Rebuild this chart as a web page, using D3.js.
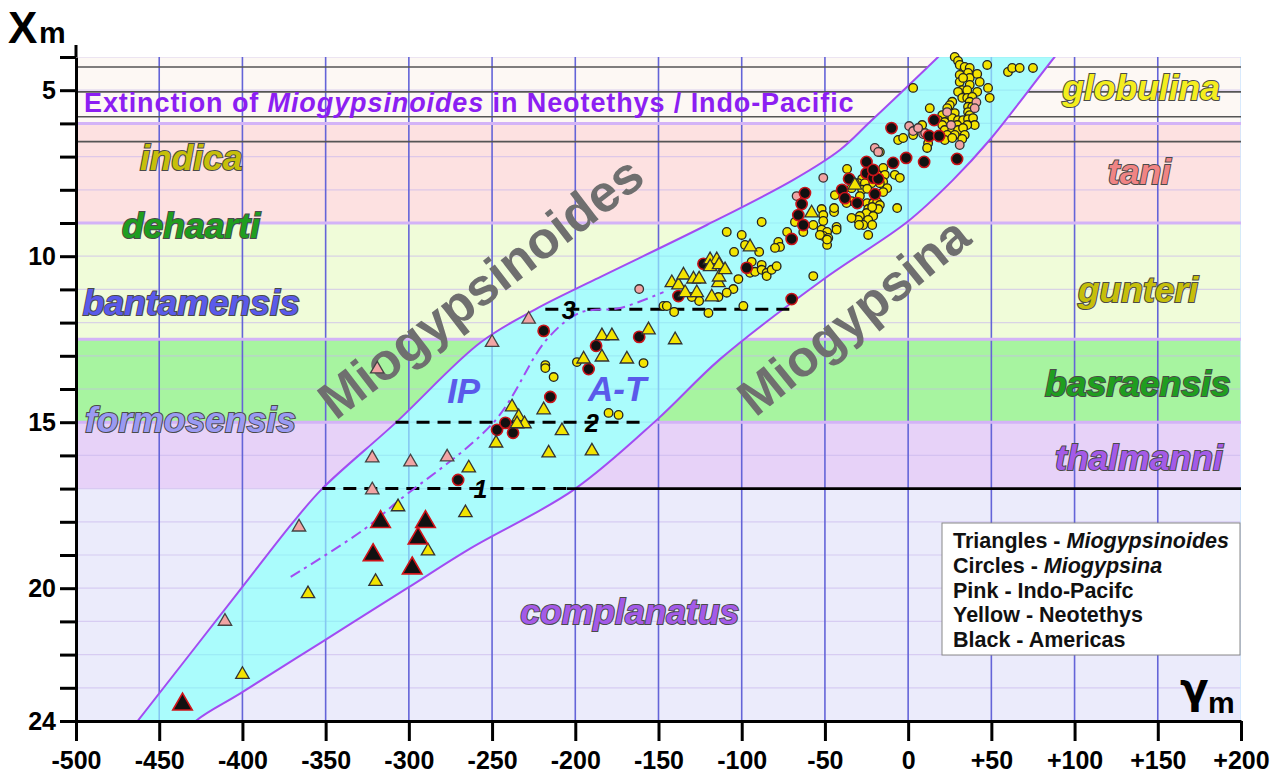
<!DOCTYPE html>
<html>
<head>
<meta charset="utf-8">
<script src="https://d3js.org/d3.v7.min.js"></script>
<style>
  body { margin: 0; background: #fff; }
  text { font-family: "Liberation Sans", Arial, sans-serif; font-weight: bold; }
</style>
</head>
<body>
<div id="vis"></div>
<script>
  // zones (X_m boundaries) and their colours
  const zoneBreaks = [4, 6, 9, 12.5, 15, 17, 24]
  const zoneColors = ['#fdf8f4', '#fde1e1', '#f0fcd9', '#a7f4a0', '#e7d2f8', '#ebebfb']
  const thinLines = [4.3, 5.05, 5.8, 6.55]

  // band edges [gamma, X]
  const bandUpper = [[-471,24.5],[-463,24],[-400,19.96],[-370,18.04],[-352,17.0],[-308,15.02],[-257,12.6],[-224,11.6],[-188,10.7],[-121,9.06],[-69,7.7],[-41,6.8],[-23,5.96],[18,4.0],[30,3.4]]
  const bandLower = [[98,3.4],[88,4.0],[49,6.5],[27,7.7],[-0.6,8.97],[-51,10.7],[-113,13.1],[-151,14.93],[-201,17.04],[-263,18.8],[-301,20.0],[-351.6,21.6],[-401,23.16],[-428,24],[-436,24.5]]
  const ipLine = [[-371,19.66],[-327.5,18.25],[-307,17.4],[-249,15.0],[-217,12.5],[-197,11.7],[-173,11.56],[-147,11.08]]

  // dashed levels
  const levelX = [11.6, 15, 17]
  const levelFrom = [-218, -308, -352]
  const levelTo = [-70, -159, -205]
  const levelNames = ['3', '2', '1']
  const levelLabelAt = [-204, -190, -257]

  // Miogypsinoides (triangles)
  const triBlack = [[-317,18.0],[-290,18.0],[-294.5,18.5],[-321.5,19.0],[-298,19.4],[-436,23.5]]
  const triPink = [[-322,16.08],[-299,16.2],[-277,16.05],[-322,17.04],[-366,18.16],[-410.5,21.0],[-228,11.9],[-250,12.6],[-319,13.4]]
  const triYellow = [[-400,22.6],[-360.6,20.17],[-320,19.8],[-288.5,18.88],[-306.5,17.55],[-266,17.73],[-264,16.38],[-247.6,15.63],[-238,14.54],[-234,14.84],[-230.5,15.05],[-235,15.05],[-219,14.63],[-208,15.26],[-216,15.93],[-190,15.87],[-195,13.1],[-184,13.04],[-169,13.1],[-184,12.4],[-178,12.4],[-156,12.22],[-140,12.52],[-142,10.8],[-138,10.87],[-135,10.57],[-129,10.69],[-125.6,10.69],[-134,11.1],[-127,11.1],[-118,11.23],[-114,10.8],[-113.6,10.63],[-119,10.11],[-115,10.11],[-119,10.32],[-113.6,10.26],[-110,10.41],[-95,9.72],[-58,8.7],[-32,7.86]]

  // Miogypsina (circles)
  const circBlack = [[-270.4,16.74],[-247,15.23],[-242,15.02],[-237.4,15.32],[-215,14.24],[-192,13.4],[-187.5,12.7],[-219,12.25],[-161.6,12.43],[-138,11.2],[-123,10.23],[-97,10.35],[-70,11.29],[-70,9.48],[-66,8.76],[-63,9.06],[-64,8.43],[-62,8.1],[-39.7,8.0],[-38,8.25],[-30.6,8.4],[-20,8.13],[-35.5,7.67],[-25,7.16],[-25,7.5],[-21,7.64],[-18,7.67],[-9,7.19],[-1.2,7.04],[9.6,7.16],[29.4,7.07],[12.6,6.38],[18.6,6.38],[-10,6.14],[15.6,5.9],[-21,7.4]]
  const circPink = [[-161.6,10.99],[-67,8.19],[-51,7.64],[-20,6.74],[-18,6.86],[9,6.32],[0.6,6.08],[3,6.23],[10.2,6.29],[6,6.14],[23.4,5.66],[25.8,6.05],[31,6.65],[41,5.36],[40,5.54]]
  const circYellow = [[28,4.0],[30,4.12],[31,4.24],[34,4.3],[37,4.33],[36,4.48],[37,4.63],[31,4.54],[41.5,4.51],[47.5,4.24],[60,4.45],[62.5,4.33],[67,4.33],[75,4.33],
    [31,4.75],[33,4.63],[43,4.75],[37,4.84],[48,4.93],[32.5,5.0],[30,5.05],[35.5,5.0],[41.5,5.05],[32.5,5.23],[35.5,5.23],[38.5,5.2],[49,5.23],[37,5.35],[26.5,5.35],[25,5.45],[36,5.5],[38.5,5.5],[3,4.93],[13,5.54],[23.5,5.54],[22,5.75],[20.5,5.75],[28,5.69],[36,5.66],[37,5.75],[18,5.9],[22,5.96],[26.5,5.84],[30,5.9],[33,5.9],[36,5.87],[39,5.84],[40,6.05],[20.5,6.05],[29.5,6.05],[35.5,6.05],[22,6.2],[26.5,6.2],[30,6.2],[33,6.14],[23.5,6.35],[28,6.35],[34,6.35],[22,6.5],[26.5,6.44],[32.5,6.47],[8.4,6.05],[3,6.35],[12,6.6],[11.4,6.74],[-6,6.5],[-3,6.44],[-17,6.86],[-15,7.34],[-8,7.55],[-5,7.64],[-18.6,7.55],
    [-36.7,7.37],[-14,7.55],[-15,7.76],[-12.6,7.95],[-17,7.8],[-22,7.8],[-27.6,7.67],[-30,7.8],[-32,7.8],[-26,7.8],[-34,7.95],[-27.6,8.0],[-24.6,7.97],[-15,8.07],[-44,8.16],[-34,8.34],[-37,8.4],[-29,8.19],[-24.6,8.4],[-21,8.4],[-18.6,8.37],[-17,8.46],[-18,8.58],[-24,8.58],[-25,8.7],[-29,8.79],[-21,8.79],[-30,8.91],[-24,8.91],[-27,9.06],[-29.5,9.06],[-21.6,9.06],[-34,8.85],[-44.5,8.67],[-52,8.58],[-51,8.76],[-51,8.94],[-57,9.06],[-52,9.2],[-48.7,9.27],[-43,9.12],[-43,9.2],[-51,9.39],[-48,9.45],[-48.7,9.66],[-24,9.36],[-6.6,8.55],[-72.7,9.27],[-68,8.97],[-63,9.27],
    [-109,9.27],[-100,9.36],[-88,8.97],[-78,9.57],[-77,9.72],[-80,9.75],[-98,9.66],[-89.5,9.87],[-104.6,9.87],[-94,10.17],[-95,10.5],[-92,10.47],[-88,10.26],[-88,10.41],[-85,10.5],[-85,10.6],[-82,10.41],[-79,10.3],[-102,10.69],[-105,10.99],[-109,11.1],[-114,11.23],[-125.6,11.35],[-130,11.23],[-147,11.5],[-145,11.5],[-140.6,11.68],[-120,11.71],[-99,11.5],[-57,10.6],[-44.5,8.55],[-53,9.36],[-48.7,9.5],[-21.6,8.52],
    [-218,13.28],[-218,13.37],[-213,13.64],[-180,14.72],[-174,14.78],[-199,13.19],[-159,13.22]]

  const xTicks = d3.range(-500, 201, 50)
  const yTicks = d3.range(4, 25, 1)
  const yLabels = [5, 10, 15, 20, 24]

  var svg = d3.select('#vis').append('svg')
    .attr('width', 1276)
    .attr('height', 778)

  var x = d3.scaleLinear().domain([-500, 200]).range([76, 1241])
  var y = d3.scaleLinear().domain([4, 24]).range([57, 721])

  var defs = svg.append('defs')
  defs.append('clipPath').attr('id', 'plotClip')
    .append('rect').attr('x', x(-500)).attr('y', y(4)).attr('width', x(200) - x(-500)).attr('height', y(24) - y(4))

  var lineGen = d3.line().x(d => x(d[0])).y(d => y(d[1])).curve(d3.curveCatmullRom.alpha(0.5))
  var upperD = lineGen(bandUpper)
  var lowerD = lineGen(bandLower)
  var bandD = upperD + 'L' + lowerD.slice(1) + 'Z'
  defs.append('clipPath').attr('id', 'bandClip').append('path').attr('d', bandD)

  var plot = svg.append('g').attr('clip-path', 'url(#plotClip)')

  // zone backgrounds
  plot.selectAll('rect.zone')
    .data(zoneColors)
    .enter()
    .append('rect')
      .attr('x', x(-500))
      .attr('width', x(200) - x(-500))
      .attr('y', (d, i) => y(zoneBreaks[i]))
      .attr('height', (d, i) => y(zoneBreaks[i + 1]) - y(zoneBreaks[i]))
      .attr('fill', d => d)

  // faint horizontal grid
  plot.selectAll('line.hgrid')
    .data(yTicks)
    .enter()
    .append('line')
      .attr('x1', x(-500)).attr('x2', x(200))
      .attr('y1', d => y(d)).attr('y2', d => y(d))
      .attr('stroke', '#c9b8ec').attr('stroke-opacity', 0.6).attr('stroke-width', 1.2)

  // vertical grid
  plot.selectAll('line.vgrid')
    .data(xTicks.slice(1))
    .enter()
    .append('line')
      .attr('x1', d => x(d)).attr('x2', d => x(d))
      .attr('y1', y(4)).attr('y2', y(24))
      .attr('stroke', d => d == 200 ? '#cfe6ff' : '#6464d8').attr('stroke-width', 1.6)

  // thin black lines at the top
  plot.selectAll('line.thin')
    .data(thinLines)
    .enter()
    .append('line')
      .attr('x1', x(-500)).attr('x2', x(200))
      .attr('y1', d => y(d)).attr('y2', d => y(d))
      .attr('stroke', '#555').attr('stroke-width', 1.6)

  // zone boundaries
  plot.selectAll('line.zb')
    .data(zoneBreaks.slice(1, 5))
    .enter()
    .append('line')
      .attr('x1', x(-500)).attr('x2', x(200))
      .attr('y1', d => y(d)).attr('y2', d => y(d))
      .attr('stroke', '#d3b3f7').attr('stroke-width', 3)

  // band
  plot.append('path').attr('d', bandD).attr('fill', '#aafcfc')
  var inBand = plot.append('g').attr('clip-path', 'url(#bandClip)')
  inBand.selectAll('line.h')
    .data(yTicks)
    .enter()
    .append('line')
      .attr('x1', x(-500)).attr('x2', x(200))
      .attr('y1', d => y(d)).attr('y2', d => y(d))
      .attr('stroke', '#8fdcef').attr('stroke-opacity', 0.5).attr('stroke-width', 1.2)
  inBand.selectAll('line.v')
    .data(xTicks.slice(1))
    .enter()
    .append('line')
      .attr('x1', d => x(d)).attr('x2', d => x(d))
      .attr('y1', y(4)).attr('y2', y(24))
      .attr('stroke', '#86c8f2').attr('stroke-width', 1.6)
  plot.append('path').attr('d', upperD).attr('fill', 'none').attr('stroke', '#a24cf2').attr('stroke-width', 2)
  plot.append('path').attr('d', lowerD).attr('fill', 'none').attr('stroke', '#a24cf2').attr('stroke-width', 2)

  // solid level at 17
  plot.append('line')
    .attr('x1', x(levelTo[2])).attr('x2', x(200))
    .attr('y1', y(17)).attr('y2', y(17))
    .attr('stroke', '#000').attr('stroke-width', 2.6)

  // dashed levels
  plot.selectAll('line.level')
    .data(levelX)
    .enter()
    .append('line')
      .attr('x1', (d, i) => x(levelFrom[i])).attr('x2', (d, i) => x(levelTo[i]))
      .attr('y1', d => y(d)).attr('y2', d => y(d))
      .attr('stroke', '#000').attr('stroke-width', 3).attr('stroke-dasharray', '13,8')

  // Indo-Pacific dash-dot
  plot.append('path').attr('d', lineGen(ipLine))
    .attr('fill', 'none').attr('stroke', '#a24cf2').attr('stroke-width', 2)
    .attr('stroke-dasharray', '11,5,3,5')

  // zone names
  const zoneLabels = [
    ['globulina', 92.6, 5.3, '#f4ee1e'],
    ['tani', 120, 7.82, '#f08484'],
    ['indica', -461.6, 7.4, '#c6bf0a'],
    ['gunteri', 102, 11.38, '#c6bf0a'],
    ['dehaarti', -472.4, 9.45, '#1f9e1f'],
    ['bantamensis', -496, 11.77, '#5a5aea'],
    ['basraensis', 82.3, 14.2, '#1f9e1f'],
    ['formosensis', -494.6, 15.3, '#9a9af2'],
    ['thalmanni', 88.3, 16.44, '#a45ae8'],
    ['complanatus', -233, 21.07, '#a45ae8']
  ]
  svg.selectAll('text.zone')
    .data(zoneLabels)
    .enter()
    .append('text')
      .attr('x', d => x(d[1])).attr('y', d => y(d[2]))
      .text(d => d[0])
      .style('font-size', '35.5px').style('font-style', 'italic')
      .attr('fill', d => d[3])
      .attr('stroke', '#4a4a4a').attr('stroke-width', 2).style('paint-order', 'stroke')

  // title
  var title = svg.append('text').attr('x', x(-495.2)).attr('y', y(5.66))
    .style('font-size', '27px').style('letter-spacing', '0.9px').attr('fill', '#8c1ef2')
  title.append('tspan').text('Extinction of ')
  title.append('tspan').style('font-style', 'italic').text('Miogypsinoides')
  title.append('tspan').text(' in Neotethys / Indo-Pacific')

  // genus names
  svg.append('text')
    .attr('transform', 'translate(' + x(-257) + ',' + y(10.93) + ') rotate(-37.5)')
    .attr('text-anchor', 'middle').attr('dy', '0.35em')
    .style('font-size', '52px').attr('fill', '#6f6f6f')
    .text('Miogypsinoides')
  svg.append('text')
    .attr('transform', 'translate(' + x(-33) + ',' + y(11.8) + ') rotate(-39)')
    .attr('text-anchor', 'middle').attr('dy', '0.35em')
    .style('font-size', '51px').attr('fill', '#6f6f6f')
    .text('Miogypsina')

  svg.append('text').attr('x', x(-277)).attr('y', y(14.42))
    .style('font-size', '35px').style('font-style', 'italic').attr('fill', '#5a5aea').text('IP')
  svg.append('text').attr('x', x(-192.3)).attr('y', y(14.36))
    .style('font-size', '35px').style('font-style', 'italic').attr('fill', '#5a5aea').text('A-T')

  // level numbers
  svg.selectAll('text.lvl')
    .data(levelNames)
    .enter()
    .append('text')
      .attr('x', (d, i) => x(levelLabelAt[i])).attr('y', (d, i) => y(levelX[i]))
      .attr('text-anchor', 'middle').attr('dy', '0.38em')
      .style('font-size', '25px').style('font-style', 'italic').attr('fill', '#000')
      .text(d => d)

  // points
  var pts = svg.append('g')
  function circles(data, r, fill, stroke, sw) {
    pts.selectAll(null)
      .data(data)
      .enter()
      .append('circle')
        .attr('cx', d => x(d[0])).attr('cy', d => y(d[1]))
        .attr('r', r).attr('fill', fill).attr('stroke', stroke).attr('stroke-width', sw)
  }
  function triangles(data, size, fill, stroke, sw) {
    pts.selectAll(null)
      .data(data)
      .enter()
      .append('path')
        .attr('d', d3.symbol().type(d3.symbolTriangle).size(size))
        .attr('transform', d => 'translate(' + x(d[0]) + ',' + y(d[1]) + ')')
        .attr('fill', fill).attr('stroke', stroke).attr('stroke-width', sw)
  }
  circles(circYellow, 4.3, '#f3e400', '#222', 1.3)
  circles(circPink, 4.3, '#f2a4a4', '#333', 1.3)
  circles(circBlack, 5.6, '#111', '#c8141a', 1.6)
  triangles(triYellow, 78, '#f3e400', '#333', 1.3)
  triangles(triPink, 78, '#f2a4a4', '#444', 1.3)
  triangles(triBlack, 165, '#111', '#d0141a', 1.6)

  // axes
  svg.append('g')
    .attr('transform', 'translate(' + x(-500) + ',0)')
    .call(d3.axisLeft(y).tickValues(yTicks).tickSize(16).tickSizeOuter(0).tickPadding(4)
      .tickFormat(d => yLabels.includes(d) ? String(d) : ''))
  svg.append('line').attr('x1', x(-500)).attr('x2', x(-500)).attr('y1', 45).attr('y2', y(4))
    .attr('stroke', '#000').attr('stroke-width', 3)

  svg.append('g')
    .attr('transform', 'translate(0,' + y(24) + ')')
    .call(d3.axisBottom(x).tickValues(xTicks).tickSize(20).tickSizeOuter(0).tickPadding(10)
      .tickFormat(d => d > 0 ? '+' + d : String(d)))

  svg.selectAll('.domain').attr('stroke', '#000').attr('stroke-width', 3)
  svg.selectAll('.tick line').attr('stroke', '#000').attr('stroke-width', 3)
  svg.selectAll('.tick text').attr('fill', '#000')
    .style('font-size', '25px').style('font-weight', 'bold')
    .style('font-family', '"Liberation Sans", Arial, sans-serif')

  // axis titles
  svg.append('text').attr('x', 8).attr('y', 43).style('font-size', '44px').attr('fill', '#000').text('X')
  svg.append('text').attr('x', 39).attr('y', 43).style('font-size', '30px').attr('fill', '#000').text('m')
  svg.append('text').attr('x', 1180).attr('y', 703).style('font-size', '42px')
    .style('font-family', '"DejaVu Sans", sans-serif').attr('fill', '#000').text('γ')
  svg.append('text').attr('x', 1208).attr('y', 713).style('font-size', '30px').attr('fill', '#000').text('m')

  // legend
  svg.append('rect').attr('x', 942).attr('y', 523).attr('width', 298).attr('height', 132)
    .attr('fill', '#fff').attr('stroke', '#888').attr('stroke-width', 1)
  const legendLines = [['Triangles - ', 'Miogypsinoides'], ['Circles - ', 'Miogypsina'], ['Pink - Indo-Pacifc', ''], ['Yellow - Neotethys', ''], ['Black - Americas', '']]
  legendLines.forEach(function (l, i) {
    var t = svg.append('text').attr('x', 953).attr('y', 548 + i * 24.8)
      .style('font-size', '21.5px').attr('fill', '#111')
    t.append('tspan').text(l[0])
    if (l[1]) t.append('tspan').style('font-style', 'italic').text(l[1])
  })
</script>
</body>
</html>
